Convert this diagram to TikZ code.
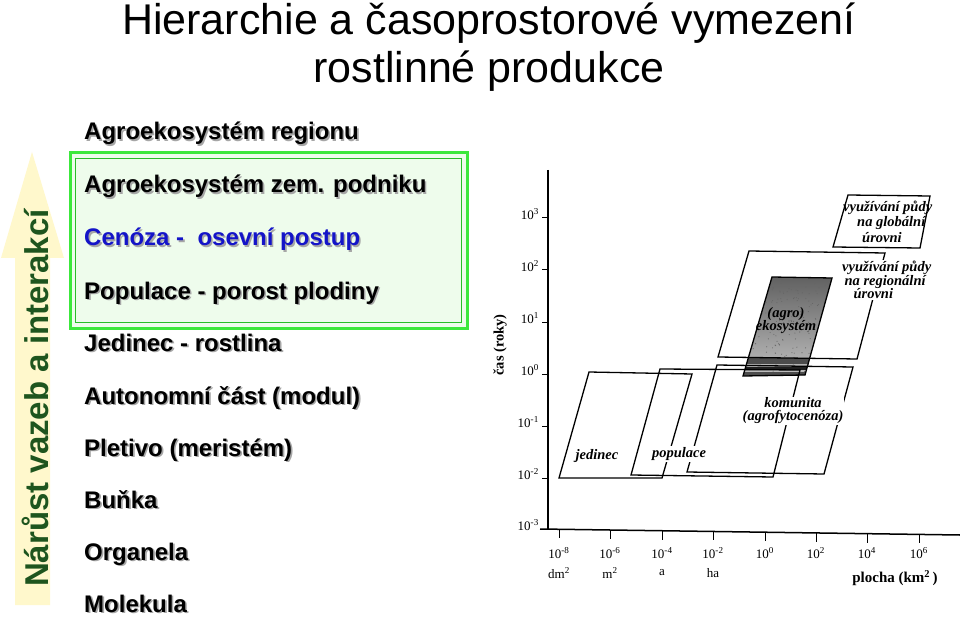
\documentclass[tikz,border=0pt]{standalone}
\usepackage{fontspec}
\setmainfont{Liberation Sans}
\newfontfamily\grserif{Liberation Serif}
\definecolor{arrowfill}{RGB}{255,248,204}
\definecolor{arrowtext}{RGB}{30,85,30}
\definecolor{boxfill}{RGB}{238,252,236}
\definecolor{boxouter}{RGB}{60,232,60}
\definecolor{boxinner}{RGB}{40,190,40}
\definecolor{cenblue}{RGB}{20,20,200}
\tikzset{
  listtxt/.style={anchor=base west, inner sep=0pt, font=\bfseries\fontsize{24}{28}\selectfont},
  shadowtxt/.style={listtxt, text=black!35},
  grlab/.style={inner sep=1pt, font=\grserif\bfseries\itshape\fontsize{14.5}{16}\selectfont},
  ticklab/.style={inner sep=0pt, font=\grserif\fontsize{13}{15}\selectfont},
  axisline/.style={line width=1.5pt},
  scalebox/.style={line width=1.3pt, line join=miter},
}
\newcommand\lvl[4]{%
  \node[shadowtxt] (#1s) at (85.6,#2+1.6) {#4};
  \node[listtxt, text=#3] (#1) at (84,#2) {#4};
}
\begin{document}
\begin{tikzpicture}[x=1pt,y=-1pt]
\useasboundingbox (0,0) rectangle (960,617);
\fill[white] (0,0) rectangle (960,617);

% title
\node[anchor=base, inner sep=0pt, font=\fontsize{43}{48}\selectfont] (title1) at (489,35) {Hierarchie a časoprostorové vymezení};
\node[anchor=base, inner sep=0pt, font=\fontsize{43}{48}\selectfont] (title2) at (489,83) {rostlinné produkce};

% arrow
\fill[arrowfill] (15,605) -- (15,258) -- (1,258) -- (32,152) -- (64,258) -- (50,258) -- (50,605) -- cycle;
\node[rotate=90, inner sep=0pt, text=arrowtext, font=\bfseries\fontsize{33}{36}\selectfont] (arrowtxt) at (35,398) {Nárůst vazeb a interakcí};

% green box
\filldraw[fill=boxfill, draw=boxouter, line width=3pt] (70,153) rectangle (467,328);
\draw[boxinner, line width=1pt] (75.5,158.5) rectangle (461.5,322.5);

% list
\lvl{l1}{140}{black}{Agroekosystém regionu}
\lvl{l2}{193}{black}{Agroekosystém zem. podniku}
\lvl{l3}{246}{cenblue}{Cenóza -\ \ osevní postup}
\lvl{l4}{299}{black}{Populace - porost plodiny}
\lvl{l5}{351}{black}{Jedinec - rostlina}
\lvl{l6}{404}{black}{Autonomní část (modul)}
\lvl{l7}{456}{black}{Pletivo (meristém)}
\lvl{l8}{508}{black}{Buňka}
\lvl{l9}{560}{black}{Organela}
\lvl{l10}{612}{black}{Molekula}

% axes
\coordinate (ytop) at (548,170);
\coordinate (orig) at (548,529);
\coordinate (xend) at (960,535);
\draw[axisline] (ytop) -- (orig);
\draw[axisline] (540,529) -- (xend);

% y ticks
\foreach \yy/\ee [count=\i] in {218/3,270/2,322/1,374/0,426/-1,478/-2,529/-3}{
  \draw[line width=1pt] (542,\yy) -- (548,\yy);
  \node[ticklab, anchor=east] (yl\i) at (539,\yy-4) {10\textsuperscript{\ee}};
}
% x ticks
\foreach \xx/\ee/\uu [count=\i] in {559/-8/dm\textsuperscript{2},610/-6/m\textsuperscript{2},662/-4/a,713/-2/ha,765/0/,816/2/,867/4/,919/6/}{
  \draw[line width=1pt] (\xx,{529+(\xx-540)*6/420}) -- (\xx,{538+(\xx-540)*6/420});
  \node[ticklab] (xl\i) at (\xx,553) {10\textsuperscript{\ee}};
  \node[ticklab] (xu\i) at (\xx,573) {\uu};
}
\node[inner sep=0pt, font=\grserif\bfseries\fontsize{15}{17}\selectfont] (xlab) at (895,578) {plocha (km\textsuperscript{2}\,)};
\node[rotate=90, inner sep=0pt, font=\grserif\bfseries\fontsize{14.5}{16}\selectfont] (ylab) at (500,345) {čas (roky)};

% ekosystem shaded box
\begin{scope}
\clip (772,277) -- (832,278) -- (805,375) -- (743,376) -- cycle;
\shade[top color=black!62, middle color=black!4, bottom color=black!25] (740,277) rectangle (835,376);
\pgfmathsetseed{7}
\foreach \k in {1,...,260}{
  \fill[black!60] ({740+95*rnd},{277+99*rnd}) circle (0.55);
}
\fill[black!70] (740,358) rectangle (835,364);
\fill[black!88] (740,367) rectangle (835,369.5);
\fill[black!70] (740,372) rectangle (835,376);
\end{scope}
\draw[scalebox] (772,277) -- (832,278) -- (805,375) -- (743,376) -- cycle;

% boxes
\draw[scalebox] (589,372) -- (692,374) -- (662,478) -- (559,478) -- cycle;
\draw[scalebox] (660,369) -- (800,370) -- (773,477) -- (631,475) -- cycle;
\draw[scalebox] (717,365) -- (853,367) -- (824,474) -- (687,472) -- cycle;
\draw[scalebox] (749,251) -- (885,253) -- (857,359) -- (718,357) -- cycle;
\draw[scalebox] (848,195) -- (930,196) -- (920,248) -- (833,247) -- cycle;

% labels in graph
\node[grlab, anchor=west] (g1) at (842,208) {využívání půdy};
\node[grlab, anchor=west] (g2) at (856,223) {na globální};
\node[grlab, anchor=west] (g3) at (861,238) {úrovni};
\node[grlab, anchor=north west, fill=white, align=left] (reg) at (841,260) {využívání půdy\\[-2.5pt]\,na regionální\\[-2.5pt]\hspace{4mm}úrovni};
\node[grlab, align=center] (eko) at (786,321) {(agro)\\[-3pt]ekosystém};
\node[grlab, fill=white, align=center] (kom) at (793,411) {komunita\\[-3pt](agrofytocenóza)};
\node[grlab] (jed) at (597,456) {jedinec};
\node[grlab, fill=white] (pop) at (679,454) {populace};
\end{tikzpicture}
\end{document}
